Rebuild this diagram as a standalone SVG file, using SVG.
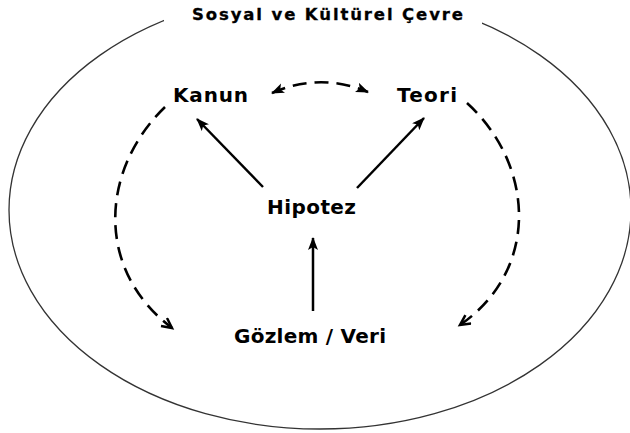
<svg xmlns="http://www.w3.org/2000/svg" width="630" height="433" viewBox="0 0 630 433">
<style>
.lbl{font-family:"DejaVu Sans","Liberation Sans",Arial,sans-serif;font-weight:bold;fill:#000;}
.solid{stroke:#000;stroke-width:2.5;fill:none;}
.dash{stroke:#000;stroke-width:2.6;fill:none;stroke-dasharray:14 8;}
</style>
<defs>
<marker id="tri" markerUnits="userSpaceOnUse" markerWidth="14" markerHeight="12" refX="12" refY="5" orient="auto-start-reverse">
<path d="M0,0 L13,5 L0,10 L3,5 z" fill="#000"/>
</marker>
<marker id="vee" markerUnits="userSpaceOnUse" markerWidth="14" markerHeight="14" refX="11" refY="6" orient="auto">
<path d="M1,1 L11,6 L1,11" fill="none" stroke="#000" stroke-width="2.5"/>
</marker>
</defs>
<rect width="630" height="433" fill="#fff"/>
<g id="frame">
<ellipse cx="320" cy="210" rx="311" ry="219" fill="none" stroke="#333" stroke-width="1.3"/>
<rect x="164" y="0" width="318" height="30" fill="#fff"/>
<text class="lbl" x="192" y="20" font-size="16.5" textLength="271" lengthAdjust="spacing" stroke="#000" stroke-width="0.3">Sosyal ve Kültürel Çevre</text>
</g>
<g id="connectors">
<line class="solid" x1="263" y1="187" x2="197" y2="119" marker-end="url(#tri)"/>
<line class="solid" x1="357" y1="188" x2="424" y2="118" marker-end="url(#tri)"/>
<line class="solid" x1="313" y1="311" x2="313" y2="238" marker-end="url(#tri)"/>
<path class="dash" d="M272,93 Q320,72 368,92" marker-start="url(#tri)" marker-end="url(#tri)"/>
<path class="dash" d="M165,107 C100,170 95,270 172,328" marker-end="url(#vee)"/>
<path class="dash" d="M467,103 C535,165 540,270 460,325" marker-end="url(#vee)"/>
</g>
<g id="kanun"><text class="lbl" x="173" y="102" font-size="20" textLength="75" lengthAdjust="spacing">Kanun</text></g>
<g id="teori"><text class="lbl" x="397" y="102" font-size="20" textLength="60" lengthAdjust="spacing">Teori</text></g>
<g id="hipotez"><text class="lbl" x="267" y="214" font-size="20" textLength="89" lengthAdjust="spacing">Hipotez</text></g>
<g id="gozlem"><text class="lbl" x="234" y="343" font-size="20" textLength="152" lengthAdjust="spacing">Gözlem / Veri</text></g>
</svg>
